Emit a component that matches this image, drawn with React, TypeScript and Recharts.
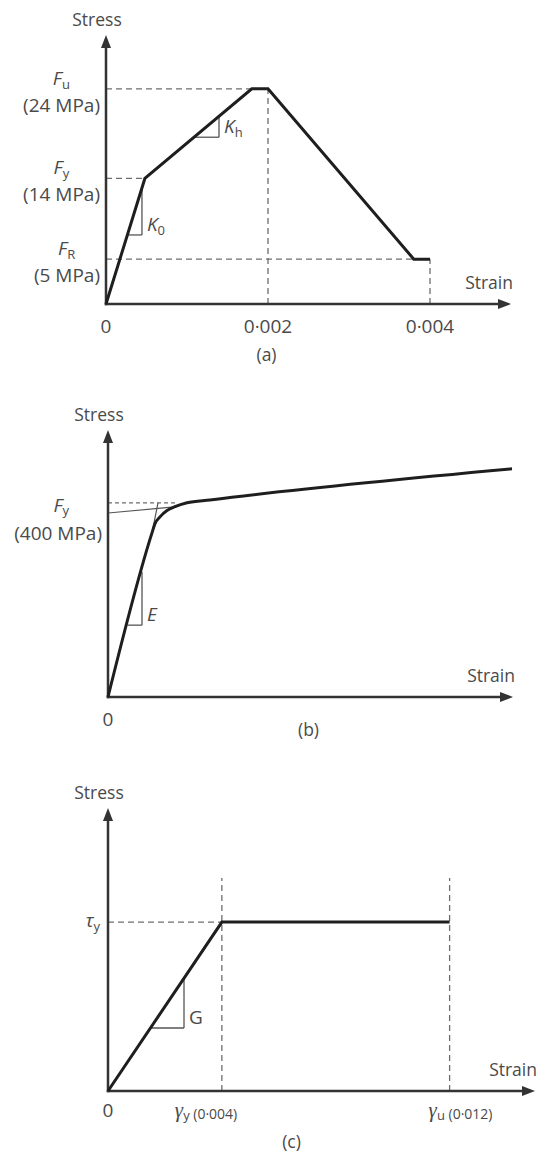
import React from "react";
import { ComposedChart, Line, XAxis, YAxis, ReferenceLine } from "recharts";

const FONT = "'Open Sans', 'Noto Sans', sans-serif";
const GREEK = "'Liberation Serif', 'DejaVu Serif', serif";
const TEXT = "#4a4a4a";
const INK = "#1e1e1e";
const AXIS = "#333333";
const DASH = "#6e6e6e";
const THIN = "#555555";
const TITLE_SIZE = 17.5;
const LABEL_SIZE = 19;

// (a) concrete: stress in MPa against strain
const concreteStrain = [0, 0.00048, 0.0018, 0.002, 0.0038, 0.004];
const concreteStress = [0, 14, 24, 24, 5, 5];
const concreteStrainTicks = [0, 0.002, 0.004];
const concreteLevels = [5, 14, 24];
const concreteLevelSubs = ["R", "y", "u"];
const concreteMax = [0.005, 30];
const concreteGuides = [
  [[0, 24], [0.0018, 24]],
  [[0, 14], [0.00048, 14]],
  [[0, 5], [0.004, 5]],
  [[0.002, 0], [0.002, 24]],
  [[0.004, 0], [0.004, 5]],
];
const k0Triangle = [[0.000264, 7.7], [0.000444, 7.7], [0.000444, 12.95]];
const khTriangle = [[0.00109, 18.6], [0.001395, 18.6], [0.001395, 20.9]];

// (b) steel
const steelStrain = [0, 0.00176, 0.00188, 0.00208, 0.00236, 0.00268, 0.00316, 0.00408, 0.01616];
const steelStress = [0, 338, 357, 371, 384, 392, 400, 406, 470];
const steelStrainTicks = [0];
const steelLevels = [400];
const steelMax = [0.0162, 550];
const steelGuides = [[[0, 400], [0.0028, 400]]];
const steelTangents = [
  [[0, 379], [0.00276, 392]],
  [[0.00176, 338], [0.002, 400]],
];
const eTriangle = [[0.00078, 148], [0.00136, 148], [0.00136, 258]];

// (c) shear, stress normalised to tau_y
const shearStrain = [0, 0.004, 0.012];
const shearStress = [0, 1, 1];
const shearStrainTicks = [0, 0.004, 0.012];
const shearLevels = [1];
const shearMax = [0.015, 1.675];
const shearGuides = [
  [[0, 1], [0.004, 1]],
  [[0.004, 0], [0.004, 1.26]],
  [[0.012, 0], [0.012, 1.26]],
];
const gTriangle = [[0.00149, 0.373], [0.00267, 0.373], [0.00267, 0.667]];

const toRows = (xs: number[], ys: number[]) => xs.map((s, i) => ({ strain: s, stress: ys[i] }));
const fmtStrain = (v: number) => (v === 0 ? "0" : v.toFixed(3).replace(".", "·"));

const arrowShape = (title: string, dir: "x" | "y") => (p: any) => {
  const { x1, y1, x2, y2 } = p;
  const L = 13;
  const H = 5;
  const head =
    dir === "x"
      ? `${x2},${y2} ${x2 - L},${y2 - H} ${x2 - L},${y2 + H}`
      : `${x2},${y2} ${x2 - H},${y2 + L} ${x2 + H},${y2 + L}`;
  const ex = dir === "x" ? x2 - L + 2 : x2;
  const ey = dir === "x" ? y2 : y2 + L - 2;
  const sx = dir === "x" ? x1 - 1.2 : x1;
  const sy = dir === "x" ? y1 : y1 + 1.2;
  return (
    <g>
      <line x1={sx} y1={sy} x2={ex} y2={ey} stroke={AXIS} strokeWidth={2.5} />
      <polygon points={head} fill={AXIS} />
      {dir === "y" ? (
        <text x={x2 - 9} y={y2 - 9} textAnchor="middle" fontFamily={FONT} fontSize={TITLE_SIZE} fill={TEXT}>
          {title}
        </text>
      ) : (
        <text x={x2 + 2} y={y2 - 15} textAnchor="end" fontFamily={FONT} fontSize={TITLE_SIZE} fill={TEXT}>
          {title}
        </text>
      )}
    </g>
  );
};

const legShape = (sym: string, sub: string) => (p: any) => {
  const { x1, y1, x2, y2 } = p;
  const bottom = Math.max(y1, y2);
  return (
    <g>
      <line x1={x1} y1={y1} x2={x2} y2={y2} stroke={THIN} strokeWidth={1.3} />
      <text x={x1 + 5} y={bottom - 4} fontFamily={FONT} fontSize={LABEL_SIZE} fill={TEXT}>
        <tspan fontStyle={sym === "G" ? "normal" : "italic"}>{sym}</tspan>
        {sub ? (
          <tspan fontSize={13} dy={4}>
            {sub}
          </tspan>
        ) : null}
      </text>
    </g>
  );
};

function Axes({ max, xTitle, yTitle }: { max: number[]; xTitle: string; yTitle: string }) {
  return (
    <>
      <ReferenceLine
        segment={[{ x: 0, y: 0 }, { x: max[0], y: 0 }]}
        ifOverflow="visible"
        shape={arrowShape(xTitle, "x")}
      />
      <ReferenceLine
        segment={[{ x: 0, y: 0 }, { x: 0, y: max[1] }]}
        ifOverflow="visible"
        shape={arrowShape(yTitle, "y")}
      />
    </>
  );
}

function guideLines(list: number[][][], dash: string, color = DASH, width = 1.3) {
  return list.map((g, i) => (
    <ReferenceLine
      key={`g${i}-${dash}`}
      segment={[{ x: g[0][0], y: g[0][1] }, { x: g[1][0], y: g[1][1] }]}
      ifOverflow="visible"
      stroke={color}
      strokeWidth={width}
      strokeDasharray={dash}
    />
  ));
}

function slopeTriangle(t: number[][], sym: string, sub: string) {
  return [
    <ReferenceLine
      key={`h-${sym}${sub}`}
      segment={[{ x: t[0][0], y: t[0][1] }, { x: t[1][0], y: t[1][1] }]}
      ifOverflow="visible"
      stroke={THIN}
      strokeWidth={1.3}
    />,
    <ReferenceLine
      key={`v-${sym}${sub}`}
      segment={[{ x: t[1][0], y: t[1][1] }, { x: t[2][0], y: t[2][1] }]}
      ifOverflow="visible"
      shape={legShape(sym, sub)}
    />,
  ];
}

const StrainTick = ({ x, y, payload }: any) => (
  <text x={x} y={y + 29} textAnchor="middle" fontFamily={FONT} fontSize={LABEL_SIZE} fill={TEXT}>
    {fmtStrain(payload.value)}
  </text>
);

const ConcreteLevelTick = ({ x, y, payload }: any) => {
  const i = concreteLevels.indexOf(payload.value);
  const text = `(${payload.value} MPa)`;
  const cx = x - 6 - (text.length * 10.4) / 2;
  return (
    <g fontFamily={FONT} fontSize={LABEL_SIZE} fill={TEXT}>
      <text x={cx + 3} y={y - 4} textAnchor="middle">
        <tspan fontStyle="italic">F</tspan>
        <tspan fontSize={13} dy={4}>
          {concreteLevelSubs[i]}
        </tspan>
      </text>
      <text x={x - 6} y={y + 23} textAnchor="end">
        {text}
      </text>
    </g>
  );
};

const SteelLevelTick = ({ x, y, payload }: any) => {
  const text = `(${payload.value} MPa)`;
  const cx = x - 6 - (text.length * 10.4) / 2;
  return (
    <g fontFamily={FONT} fontSize={LABEL_SIZE} fill={TEXT}>
      <text x={cx + 6} y={y + 9} textAnchor="middle">
        <tspan fontStyle="italic">F</tspan>
        <tspan fontSize={13} dy={3}>
          y
        </tspan>
      </text>
      <text x={x - 6} y={y + 37} textAnchor="end">
        {text}
      </text>
    </g>
  );
};

const shearTickShift: Record<string, number> = { "0.004": -47, "0.012": -21 };

const ShearStrainTick = ({ x, y, payload }: any) => {
  const v = payload.value;
  if (v === 0) {
    return (
      <text x={x} y={y + 26} textAnchor="middle" fontFamily={FONT} fontSize={LABEL_SIZE} fill={TEXT}>
        0
      </text>
    );
  }
  const sub = v === 0.004 ? "y" : "u";
  return (
    <text x={x + (shearTickShift[String(v)] ?? 0)} y={y + 26} fontFamily={FONT} fontSize={LABEL_SIZE} fill={TEXT}>
      <tspan fontStyle="italic" fontFamily={GREEK} fontSize={21}>
        γ
      </tspan>
      <tspan fontSize={13} dy={3}>
        {sub}
      </tspan>
      <tspan fontSize={14} dy={-1}>
        {` (${fmtStrain(v)})`}
      </tspan>
    </text>
  );
};

const ShearLevelTick = ({ x, y }: any) => (
  <text x={x - 8} y={y + 5} textAnchor="end" fontFamily={FONT} fontSize={LABEL_SIZE} fill={TEXT}>
    <tspan fontStyle="italic">τ</tspan>
    <tspan fontSize={13} dy={4}>
      y
    </tspan>
  </text>
);

const captionLabel = (text: string, dx: number, dy: number) => ({
  content: (p: any) => {
    const vb = p.viewBox || { x: 0, y: 0, width: 0 };
    return (
      <text
        x={vb.x + vb.width / 2 + dx}
        y={vb.y + dy}
        textAnchor="middle"
        fontFamily={FONT}
        fontSize={TITLE_SIZE}
        fill={TEXT}
      >
        {text}
      </text>
    );
  },
});

const lineProps = {
  dataKey: "stress",
  type: "linear" as const,
  stroke: INK,
  strokeWidth: 3,
  dot: false,
  activeDot: false,
  isAnimationActive: false,
  strokeLinejoin: "miter" as const,
};

export default function App() {
  return (
    <div style={{ position: "absolute", left: 0, top: 0, width: 540, height: 1152, background: "#fff" }}>
      <div style={{ position: "absolute", left: 0, top: 0 }}>
        <ComposedChart
          width={540}
          height={370}
          data={toRows(concreteStrain, concreteStress)}
          margin={{ top: 35, right: 29, bottom: 26, left: 0 }}
        >
          <XAxis
            dataKey="strain"
            type="number"
            domain={[0, concreteMax[0]]}
            ticks={concreteStrainTicks}
            interval={0}
            axisLine={false}
            tickLine={false}
            tickSize={0}
            tickMargin={0}
            height={40}
            tick={<StrainTick />}
            label={captionLabel("(a)", -42, 57)}
          />
          <YAxis
            type="number"
            domain={[0, concreteMax[1]]}
            ticks={concreteLevels}
            interval={0}
            axisLine={false}
            tickLine={false}
            tickSize={0}
            tickMargin={0}
            width={106}
            tick={<ConcreteLevelTick />}
          />
          {guideLines(concreteGuides, "6 4")}
          {slopeTriangle(k0Triangle, "K", "0")}
          {slopeTriangle(khTriangle, "K", "h")}
          <Axes max={concreteMax} xTitle="Strain" yTitle="Stress" />
          <Line {...lineProps} />
        </ComposedChart>
      </div>

      <div style={{ position: "absolute", left: 0, top: 380 }}>
        <ComposedChart
          width={540}
          height={380}
          data={toRows(steelStrain, steelStress)}
          margin={{ top: 50, right: 27, bottom: 23, left: 0 }}
        >
          <XAxis
            dataKey="strain"
            type="number"
            domain={[0, steelMax[0]]}
            ticks={steelStrainTicks}
            interval={0}
            axisLine={false}
            tickLine={false}
            tickSize={0}
            tickMargin={0}
            height={40}
            tick={<StrainTick />}
            label={captionLabel("(b)", -2, 39)}
          />
          <YAxis
            type="number"
            domain={[0, steelMax[1]]}
            ticks={steelLevels}
            interval={0}
            axisLine={false}
            tickLine={false}
            tickSize={0}
            tickMargin={0}
            width={108}
            tick={<SteelLevelTick />}
          />
          {guideLines(steelGuides, "4 3")}
          {guideLines(steelTangents, "", THIN, 1.2)}
          {slopeTriangle(eTriangle, "E", "")}
          <Axes max={steelMax} xTitle="Strain" yTitle="Stress" />
          <Line {...lineProps} type="monotone" />
        </ComposedChart>
      </div>

      <div style={{ position: "absolute", left: 0, top: 760 }}>
        <ComposedChart
          width={540}
          height={392}
          data={toRows(shearStrain, shearStress)}
          margin={{ top: 48, right: 5, bottom: 21, left: 0 }}
        >
          <XAxis
            dataKey="strain"
            type="number"
            domain={[0, shearMax[0]]}
            ticks={shearStrainTicks}
            interval={0}
            axisLine={false}
            tickLine={false}
            tickSize={0}
            tickMargin={0}
            height={40}
            tick={<ShearStrainTick />}
            label={captionLabel("(c)", -30, 57)}
          />
          <YAxis
            type="number"
            domain={[0, shearMax[1]]}
            ticks={shearLevels}
            interval={0}
            axisLine={false}
            tickLine={false}
            tickSize={0}
            tickMargin={0}
            width={108}
            tick={<ShearLevelTick />}
          />
          {guideLines(shearGuides, "6 4")}
          {slopeTriangle(gTriangle, "G", "")}
          <Axes max={shearMax} xTitle="Strain" yTitle="Stress" />
          <Line {...lineProps} />
        </ComposedChart>
      </div>
    </div>
  );
}
